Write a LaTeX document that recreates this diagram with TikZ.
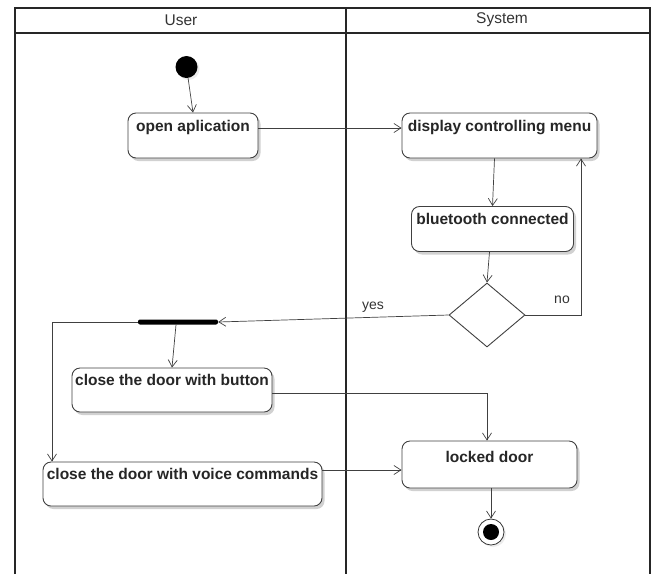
\documentclass[tikz,border=0pt]{standalone}
\usepackage{fontspec}
\setmainfont{Liberation Sans}
\usetikzlibrary{arrows.meta,shapes.geometric,shadows,calc}
\tikzset{
  act/.style={draw=black!75, line width=0.9pt, rounded corners=8pt, fill=white,
    inner xsep=2pt, inner ysep=0pt, text height=18pt, text depth=27pt,
    font=\bfseries\fontsize{15.5}{17}\selectfont, text=black!85,
    drop shadow={shadow xshift=2.5pt, shadow yshift=-3pt, opacity=0.18, fill=black}},
  flow/.style={draw=black!75, line width=0.7pt, -{Straight Barb[length=7pt,width=9pt,line width=0.7pt]}},
  lane/.style={draw=black!85, line width=1.6pt},
  lbl/.style={font=\fontsize{14}{16}\selectfont, text=black!80, inner sep=0pt},
  hdr/.style={font=\fontsize{15.5}{17}\selectfont, text=black!80, inner sep=0pt}
}
\begin{document}
\begin{tikzpicture}[x=1pt,y=-1pt]
\useasboundingbox (0,0) rectangle (660,574);
% swimlanes
\draw[lane] (15,574) -- (15,8) -- (650,8) -- (650,574);
\draw[lane] (15,33) -- (650,33);
\draw[lane] (346,8) -- (346,574);
\node[hdr] (huser) at (181,20) {User};
\node[hdr] (hsys) at (502,20) {System};
% nodes
\node[circle, fill=black, minimum size=22pt, inner sep=0pt,
  drop shadow={shadow xshift=2pt, shadow yshift=-2pt, opacity=0.15}] (start) at (186.5,67) {};
\node[act, minimum width=130pt] (open) at (193,135.5) {open aplication};
\node[act, minimum width=195pt] (disp) at (499.5,135.5) {display controlling menu};
\node[act, minimum width=162pt] (bt) at (492.5,229) {bluetooth connected};
\node[diamond, draw=black!75, line width=0.9pt, fill=white, inner sep=0pt,
  minimum width=76pt, minimum height=64pt] (dec) at (487,315) {};
\node[rectangle, fill=black, rounded corners=2pt, minimum width=80pt, minimum height=5pt,
  inner sep=0pt] (bar) at (178,322) {};
\node[act, minimum width=200pt, text height=17pt, text depth=27pt] (button) at (172,390) {close the door with button};
\node[act, minimum width=279pt, text height=17pt, text depth=27pt] (voice) at (182.5,484) {close the door with voice commands};
\node[act, minimum width=175pt, text height=21pt, text depth=26pt] (locked) at (489.5,464.5) {locked door};
\node[circle, draw=black!80, line width=0.8pt, fill=white, minimum size=26pt, inner sep=0pt,
  drop shadow={shadow xshift=2pt, shadow yshift=-2pt, opacity=0.15}] (final) at (491,532) {};
\node[circle, fill=black, minimum size=16pt, inner sep=0pt] (finalin) at (final.center) {};
\coordinate (lx) at (52,0);
% connectors
\draw[flow] (start) -- (open.north);
\draw[flow] ([yshift=7.5pt]open.east) -- ([yshift=7.5pt]disp.west);
\draw[flow] ([xshift=-5pt]disp.south) -- (bt.north);
\draw[flow] ([xshift=-3pt]bt.south) -- (dec.north);
\draw[flow] (dec.east) -| ([xshift=81.5pt]disp.south);
\node[lbl] (nolbl) at (562,300) {no};
\draw[flow] (dec.west) -- (bar.east);
\node[lbl] (yeslbl) at (373,307) {yes};
\draw[flow] ([xshift=-2pt]bar.south) -- (button.north);
\draw[flow] (bar.west) -| (lx |- voice.north);
\draw[flow] ([yshift=-3pt]button.east) -| ([xshift=-2.5pt]locked.north);
\draw[flow] ([yshift=14pt]voice.east) -- ([yshift=-5.5pt]locked.west);
\draw[flow] ([xshift=1.5pt]locked.south) -- (final.north);
\end{tikzpicture}
\end{document}
